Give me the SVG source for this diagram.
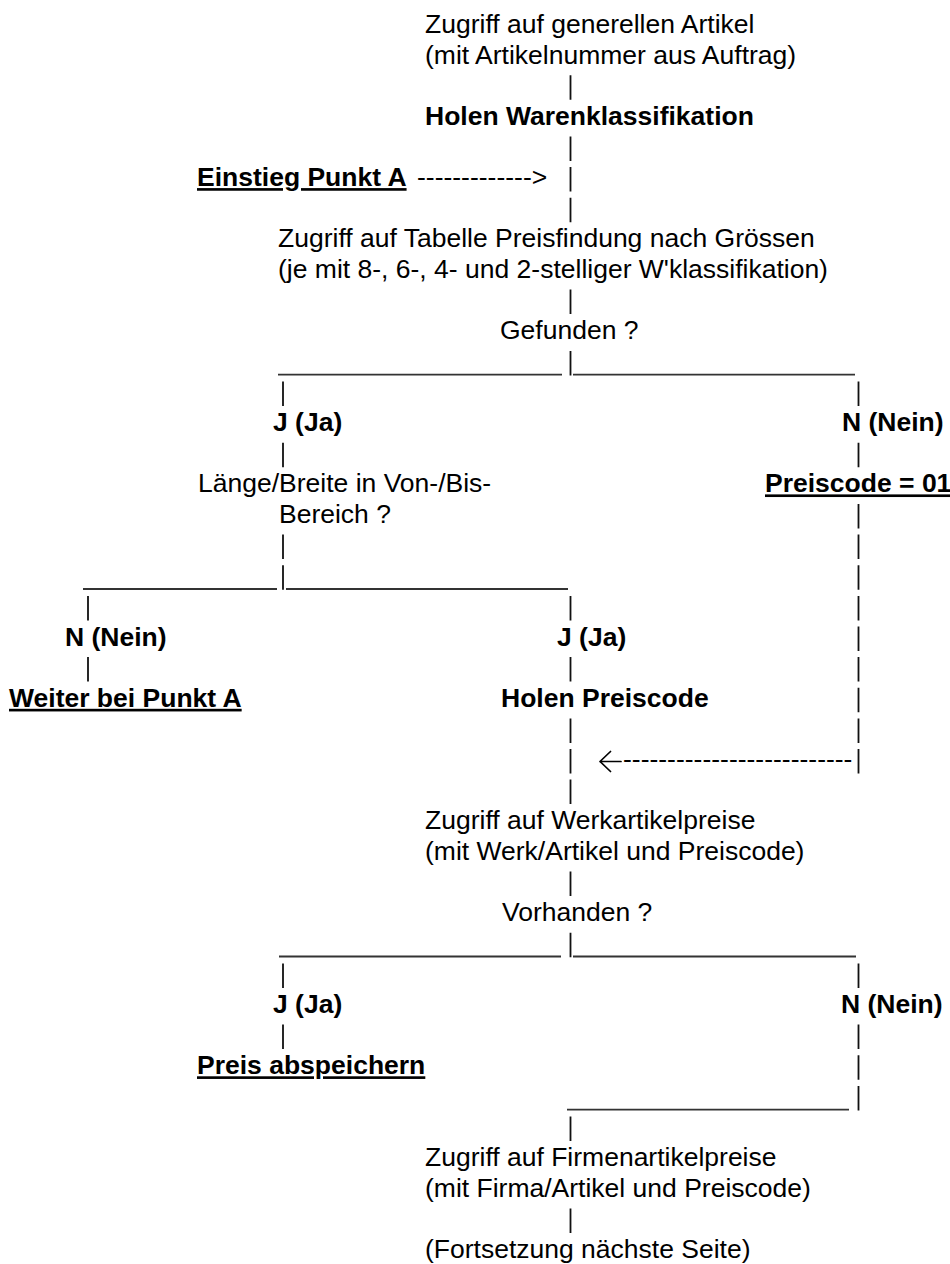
<svg xmlns="http://www.w3.org/2000/svg" width="950" height="1264" viewBox="0 0 950 1264">
  <style>
    .t{font-family:"Liberation Sans",Arial,Helvetica,sans-serif;font-size:26.5px;fill:#000}
    .b{font-weight:700}
    .u{text-decoration:underline}
    .bar{stroke:#111;stroke-width:1.8;fill:none}
    .rule{stroke:#333;stroke-width:1.9;fill:none}
    .head{stroke:#000;stroke-width:1.7;fill:none;stroke-linecap:round;stroke-linejoin:round}
  </style>
  <rect width="950" height="1264" fill="#fff"/>

  <!-- connectors: typed bars, underscore rules and dashed arrows (line pitch 30.625) -->
  <g id="connectors">
    <!-- main trunk -->
    <path class="bar" d="M570.5 75.3V99.8M570.5 136.5V161M570.5 167.1V191.6M570.5 197.8V222.3M570.5 289.6V314.1M570.5 350.9V375.4M570.5 595.9V620.4M570.5 657.1V681.6M570.5 718.4V742.9M570.5 749V773.5M570.5 779.6V804.1M570.5 871.5V896M570.5 932.8V957.3M570.5 1116.5V1141M570.5 1208.4V1232.9"/>
    <!-- left branch -->
    <path class="bar" d="M283 381.5V406M283 442.8V467.3M283 534.6V559.1M283 565.3V589.8M283 963.4V987.9M283 1024.6V1049.1"/>
    <!-- right branch -->
    <path class="bar" d="M858.5 381.5V406M858.5 442.8V467.3M858.5 504V528.5M858.5 534.6V559.1M858.5 565.3V589.8M858.5 595.9V620.4M858.5 626.5V651M858.5 657.1V681.6M858.5 687.8V712.3M858.5 718.4V742.9M858.5 749V773.5M858.5 963.4V987.9M858.5 1024.6V1049.1M858.5 1055.3V1079.8M858.5 1085.9V1110.4"/>
    <!-- far left branch -->
    <path class="bar" d="M88 595.9V620.4M88 657.1V681.6"/>
    <!-- underscore rules -->
    <path class="rule" d="M278 374.6H562M573 374.6H855"/>
    <path class="rule" d="M83 589H277M286 589H568"/>
    <path class="rule" d="M279 956.5H561M573 956.5H856"/>
    <path class="rule" d="M567 1109.6H849"/>
    <!-- dashed arrows -->
    <text class="t" x="417" y="186.1">------------->
</text>
    <path class="head" d="M621 761.5H600M610.5 751.5L600 761.5L610.5 771.5"/>
    <text class="t" x="623" y="768">--------------------------</text>
  </g>

  <g id="n-artikel">
    <text class="t" x="425" y="33">Zugriff auf generellen Artikel</text>
    <text class="t" x="425" y="63.6">(mit Artikelnummer aus Auftrag)</text>
  </g>
  <g id="n-warenklassifikation">
    <text class="t b" x="425" y="124.9">Holen Warenklassifikation</text>
  </g>
  <g id="n-einstieg">
    <text class="t b u" x="197" y="186.1">Einstieg Punkt A</text>
  </g>
  <g id="n-tabelle">
    <text class="t" x="278" y="247.4">Zugriff auf Tabelle Preisfindung nach Grössen</text>
    <text class="t" x="278" y="278">(je mit 8-, 6-, 4- und 2-stelliger W'klassifikation)</text>
  </g>
  <g id="n-gefunden">
    <text class="t" x="500" y="339.3">Gefunden ?</text>
  </g>
  <g id="n-gefunden-ja">
    <text class="t b" x="273" y="431.1">J (Ja)</text>
  </g>
  <g id="n-gefunden-nein">
    <text class="t b" x="842" y="431.1">N (Nein)</text>
  </g>
  <g id="n-bereich">
    <text class="t" x="198" y="492.4">Länge/Breite in Von-/Bis-</text>
    <text class="t" x="279" y="523">Bereich ?</text>
  </g>
  <g id="n-preiscode01">
    <text class="t b u" x="765" y="492.4">Preiscode = 01</text>
  </g>
  <g id="n-bereich-nein">
    <text class="t b" x="65" y="645.5">N (Nein)</text>
  </g>
  <g id="n-bereich-ja">
    <text class="t b" x="557" y="645.5">J (Ja)</text>
  </g>
  <g id="n-weiter">
    <text class="t b u" x="9" y="706.8">Weiter bei Punkt A</text>
  </g>
  <g id="n-holen-preiscode">
    <text class="t b" x="501" y="706.8">Holen Preiscode</text>
  </g>
  <g id="n-werkartikel">
    <text class="t" x="425" y="829.3">Zugriff auf Werkartikelpreise</text>
    <text class="t" x="425" y="859.9">(mit Werk/Artikel und Preiscode)</text>
  </g>
  <g id="n-vorhanden">
    <text class="t" x="502" y="921.1">Vorhanden ?</text>
  </g>
  <g id="n-vorhanden-ja">
    <text class="t b" x="273" y="1013">J (Ja)</text>
  </g>
  <g id="n-vorhanden-nein">
    <text class="t b" x="841" y="1013">N (Nein)</text>
  </g>
  <g id="n-preis-speichern">
    <text class="t b u" x="197" y="1074.3">Preis abspeichern</text>
  </g>
  <g id="n-firmenartikel">
    <text class="t" x="425" y="1166.1">Zugriff auf Firmenartikelpreise</text>
    <text class="t" x="425" y="1196.8">(mit Firma/Artikel und Preiscode)</text>
  </g>
  <g id="n-fortsetzung">
    <text class="t" x="425" y="1258">(Fortsetzung nächste Seite)</text>
  </g>
</svg>
